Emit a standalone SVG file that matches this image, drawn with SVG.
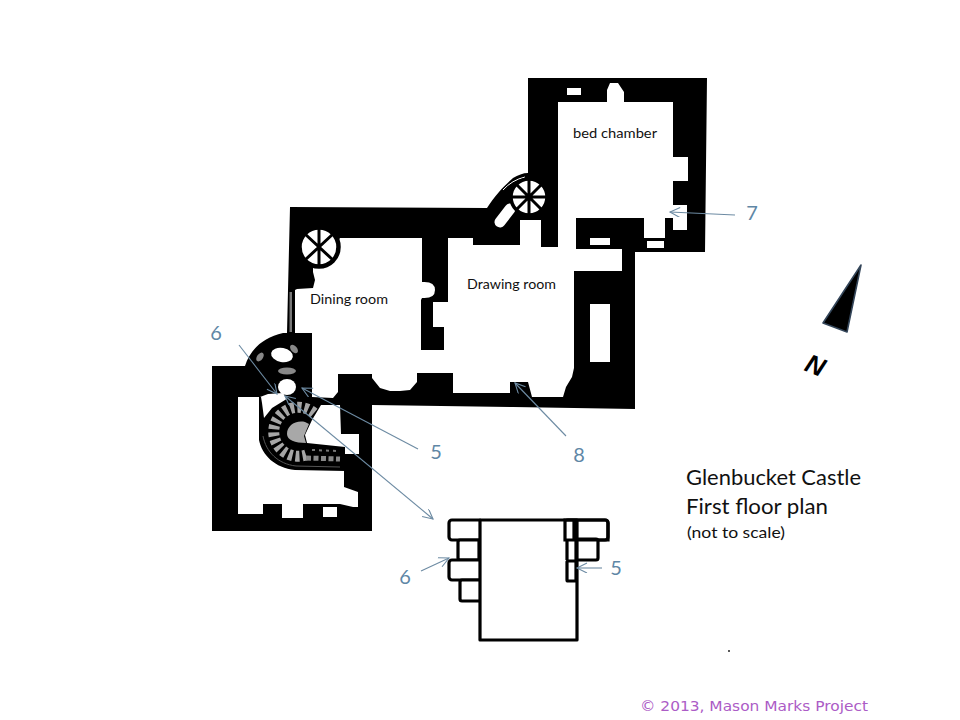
<svg xmlns="http://www.w3.org/2000/svg" width="960" height="720" viewBox="0 0 960 720">
<style>
.lbl{font-family:"Lato","Open Sans",sans-serif;fill:#111}
.num{font-family:"Lato","Open Sans",sans-serif;font-size:20px;fill:#5f87a6;text-anchor:middle}
.arr{fill:none;stroke:#6d8ba3;stroke-width:1.1}
.head{fill:none;stroke:#6d8ba3;stroke-width:1.1}
.spoke{stroke:#000;stroke-width:3}
.pl{fill:#fff;stroke:#000;stroke-width:3.2;stroke-linejoin:round}
</style>
<defs>
<marker id="ah" markerWidth="14" markerHeight="12" refX="11" refY="5" orient="auto-start-reverse" markerUnits="userSpaceOnUse"><path class="head" d="M1,0 L11,5 L1,10"/></marker>
</defs>
<rect width="960" height="720" fill="#fff"/>
<g id="plan">
<path d="M528,78 L707,78 L705,252 L635,252 L635,409 L513,407 L372,405 L372,531 L212,531 L212,366 L245,366 C250,350 262,338 283,333 L287,333 L288,290 L290,207 L487,208 C495,195 505,185 513,178 C518,175 523,173 528,173 Z" fill="#000"/>
<path d="M340,238 L422,238 L422,282 Q435,281 435,290 Q435,299 422,298 L421,300 L421,350 L444,350 L444,327 L433,327 L433,302 L448,302 L448,238 L473,238 L473,245 L520,245 L520,220 L541,220 L541,247 L558,247 L558,102 L607,102 L607,90 L610,83 L618,83 L624,92 L624,102 L673,102 L673,157 L688,157 L688,181 L673,181 L673,205 L687,205 L687,230 L673,230 L673,218 L665,218 L665,238 L644,238 L644,218 L576,218 L576,249 L622,249 L622,271 L574,271 L574,368 L572,377 L566,387 L563,397 L532,397 L528,382 L510,382 L510,393 L453,393 L453,373 L417,373 L417,382 L410,390 L400,391 L390,391 L380,388 L372,378 L372,374 L338,374 L338,392 L333,398 L312,397 L312,333 L295,333 L295,290 L297,289 L313,288 L315,280 L313,272 L313,265 L322,266 Z" fill="#fff"/>
<path d="M238,397 L260,397 L268,394 L283,393 L290,405 L340,405 L341,434 L359,434 L359,454 L345,454 L344,460 L344,487 L358,492 L358,507 L353,507 L340,504 L303,504 L303,518 L282,518 L282,504 L263,504 L263,514 L238,514 Z" fill="#fff"/>
<g fill="#fff">
<rect x="567" y="88" width="14" height="7"/>
<rect x="590" y="238" width="20" height="7"/>
<rect x="647" y="241" width="17" height="7"/>
<rect x="590" y="304" width="20" height="58"/>
<rect x="323" y="507" width="14" height="10"/>
<ellipse cx="282" cy="355" rx="11" ry="7" transform="rotate(10 282 355)"/>
<ellipse cx="287" cy="387" rx="9" ry="8"/>
</g>
<path d="M500,222 L510,209" fill="none" stroke="#fff" stroke-width="11" stroke-linecap="round"/>
<path d="M503,190 Q512,180 525,177" fill="none" stroke="#fff" stroke-width="1"/>
<rect x="289.5" y="292" width="2.5" height="40" fill="#777"/>
<g fill="#888">
<ellipse cx="287" cy="371" rx="9" ry="3.5"/>
<ellipse cx="260" cy="357" rx="3" ry="5" transform="rotate(35 260 357)"/>
<ellipse cx="294" cy="349" rx="3" ry="5" transform="rotate(-40 294 349)"/>
</g>
<path d="M259,397 L259,440 C262,455 275,468 295,470 L345,471 L345,447 L307,443 L305,435 L312,420 L321,405 L305,395 L296,392 L285,400 L272,408 L264,418 L262,403 L261,397 Z" fill="#000"/>
<path d="M314,413 A24.5,24.5 0 1 0 306,455" fill="none" stroke="#a6a6a6" stroke-width="11" stroke-dasharray="4 3"/>
<path d="M305,422 C295,420 287,426 287,434 C287,440 295,443 306,443 L304,436 L309,424 Z" fill="#a8a8a8"/>
<path d="M306,458 L340,459" fill="none" stroke="#888" stroke-width="5" stroke-dasharray="5 2.5"/>
<path d="M312,450 L338,451" fill="none" stroke="#777" stroke-width="2" stroke-dasharray="3 4"/>
<path d="M263,436 C266,452 278,464 296,466 L340,467" fill="none" stroke="#555" stroke-width="1"/>
<g id="wheel-dining">
<circle cx="319" cy="247" r="19.5" fill="#fff" stroke="#000" stroke-width="4.5"/>
<path class="spoke" d="M319,228 V266 M305,234 L333,260 M333,234 L305,260"/>
</g>
<g id="wheel-stair">
<circle cx="529" cy="197" r="18" fill="#fff" stroke="#000" stroke-width="3.5"/>
<path class="spoke" d="M529,179 V215 M511,197 H547 M516,184 L542,210 M542,184 L516,210"/>
</g>
</g>
<g id="rooms">
<text class="lbl" x="573" y="138" font-size="14" textLength="84" lengthAdjust="spacingAndGlyphs">bed chamber</text>
<text class="lbl" x="310" y="304" font-size="14" textLength="78" lengthAdjust="spacingAndGlyphs">Dining room</text>
<text class="lbl" x="467" y="289" font-size="14" textLength="89" lengthAdjust="spacingAndGlyphs">Drawing room</text>
</g>
<g id="elevation">
<rect class="pl" x="449" y="520" width="33" height="20" rx="3"/>
<rect class="pl" x="458" y="540" width="24" height="20" rx="2"/>
<rect class="pl" x="449" y="560" width="33" height="20" rx="3"/>
<rect class="pl" x="460" y="580" width="22" height="21" rx="2"/>
<rect class="pl" x="565" y="520" width="43" height="20" rx="3"/>
<rect class="pl" x="575" y="539" width="23" height="21" rx="2"/>
<rect class="pl" x="480" y="520" width="97" height="120"/>
<path d="M565,520 V540 H608 V523 Q608,520 605,520 Z M574,520 V540 M567,540 V560 M576,520 V560 M479,540 V560" fill="none" stroke="#000" stroke-width="3.2"/>
<rect x="575" y="538" width="3" height="23" fill="#000"/>
<rect class="pl" x="567" y="561" width="9" height="20" rx="1"/>
</g>
<g id="connectors">
<path class="arr" marker-end="url(#ah)" d="M239,345 L277,394"/>
<path class="arr" marker-end="url(#ah)" d="M418,449 L302,388"/>
<path class="arr" marker-start="url(#ah)" marker-end="url(#ah)" d="M285,396 L433,519"/>
<path class="arr" marker-end="url(#ah)" d="M566,436 L515,383"/>
<path class="arr" marker-end="url(#ah)" d="M735,215 L670,212"/>
<path class="arr" marker-end="url(#ah)" d="M421,571 L449,558"/>
<path class="arr" marker-end="url(#ah)" d="M602,568 L577,568"/>
</g>
<g id="numbers">
<text class="num" x="216" y="340">6</text>
<text class="num" x="436" y="459">5</text>
<text class="num" x="579" y="462">8</text>
<text class="num" x="752" y="220">7</text>
<text class="num" x="405" y="584">6</text>
<text class="num" x="616" y="575">5</text>
</g>
<g id="north">
<path d="M861,265 L823,323 L847,332 Z" fill="#000" stroke="#34465a" stroke-width="1.6" stroke-linejoin="round"/>
<text x="815" y="374" font-family="Liberation Sans,sans-serif" font-weight="700" font-style="italic" font-size="26" text-anchor="middle" transform="rotate(22 815 366)">N</text>
</g>
<g id="title">
<text class="lbl" x="686" y="485" font-size="21" textLength="175" lengthAdjust="spacingAndGlyphs">Glenbucket Castle</text>
<text class="lbl" x="686" y="514" font-size="21" textLength="142" lengthAdjust="spacingAndGlyphs">First floor plan</text>
<text class="lbl" x="687" y="538" font-size="16" textLength="98" lengthAdjust="spacingAndGlyphs">(not to scale)</text>
</g>
<text x="640" y="711" font-family="DejaVu Sans,Verdana,sans-serif" font-size="14.5" fill="#ac5cc6" textLength="228" lengthAdjust="spacingAndGlyphs">© 2013, Mason Marks Project</text>
<circle cx="729" cy="651" r="1" fill="#222"/>
</svg>
